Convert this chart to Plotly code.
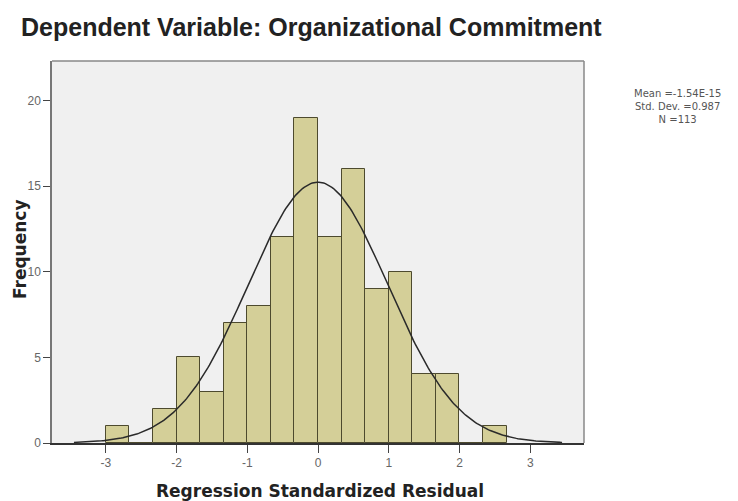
import numpy as np
import plotly.graph_objects as go

# Histogram data (bins of width 1/3 starting at -3)
bin_start = -3.0
bin_width = 1/3
counts = [1, 0, 2, 5, 3, 7, 8, 12, 19, 12, 16, 9, 10, 4, 4, 0, 1]

# Summary statistics shown on the chart
mean_label = "-1.54E-15"
mean_val = -1.54e-15
std_val = 0.987
n_val = 113

x_ticks = [-3, -2, -1, 0, 1, 2, 3]
y_ticks = [0, 5, 10, 15, 20]

centers = [bin_start + bin_width * (i + 0.5) for i in range(len(counts))]

# Normal curve fitted from the displayed statistics
xc = np.linspace(-3.45, 3.45, 300)
yc = n_val * bin_width / (std_val * np.sqrt(2 * np.pi)) * np.exp(-0.5 * ((xc - mean_val) / std_val) ** 2)

fig = go.Figure()
fig.add_trace(go.Bar(
    x=centers, y=counts, width=bin_width,
    marker=dict(color="#d4cf98", line=dict(color="#4d4a2e", width=1)),
    hoverinfo="x+y", showlegend=False,
))
fig.add_trace(go.Scatter(
    x=xc, y=yc, mode="lines",
    line=dict(color="#2a2a2a", width=1.5),
    showlegend=False, hoverinfo="skip",
))

title_font = "Liberation Sans, Arial, sans-serif"
axis_font = "DejaVu Sans, Verdana, sans-serif"

W, H = 730, 493
L, R, T, B = 44, 154, 53, 58
PW, PH = W - L - R, H - T - B

def px(x):
    return (x - L) / PW

def py(y):
    return (H - B - y) / PH

stats_text = f"Mean ={mean_label}<br>Std. Dev. ={std_val}<br>N ={n_val}"

annotations = [
    dict(text="<b>Frequency</b>", xref="paper", yref="paper",
         x=px(12), y=py(241), xanchor="center", yanchor="middle",
         textangle=-90, showarrow=False,
         font=dict(size=17, color="#222222", family=axis_font)),
    dict(text="<b>Regression Standardized Residual</b>", xref="paper", yref="paper",
         x=px(312), y=py(483), xanchor="center", yanchor="middle",
         showarrow=False,
         font=dict(size=17, color="#222222", family=axis_font)),
    dict(text=stats_text, xref="paper", yref="paper",
         x=px(669), y=py(98), xanchor="center", yanchor="middle",
         align="center", showarrow=False,
         font=dict(size=10, color="#555555", family=axis_font)),
]

fig.update_layout(
    width=W, height=H,
    margin=dict(l=L, r=R, t=T, b=B),
    paper_bgcolor="white",
    plot_bgcolor="#f0f0f0",
    bargap=0,
    font=dict(family=title_font, color="#555555"),
    title=dict(
        text="<b>Dependent Variable: Organizational Commitment</b>",
        x=13/W, xanchor="left", xref="container",
        y=1 - 19/H, yanchor="middle", yref="container",
        font=dict(size=25, color="#222222", family=title_font),
    ),
    xaxis=dict(
        range=[-3.76, 3.76],
        tickvals=x_ticks, ticktext=[str(v) for v in x_ticks],
        ticks="outside", ticklen=8, tickcolor="#444444",
        tickfont=dict(size=12, color="#666666"),
        showgrid=False, zeroline=False,
        showline=True, linecolor="#333333", linewidth=1.5, mirror=False,
    ),
    yaxis=dict(
        range=[0, 22.3],
        tickvals=y_ticks, ticktext=[str(v) for v in y_ticks],
        ticks="outside", ticklen=7, tickcolor="#444444",
        tickfont=dict(size=12, color="#666666"),
        showgrid=False, zeroline=False,
        showline=True, linecolor="#777777", linewidth=1.5, mirror=False,
    ),
    shapes=[
        dict(type="line", xref="paper", yref="paper", x0=0, x1=1, y0=1, y1=1,
             line=dict(color="#888888", width=1.5)),
        dict(type="line", xref="paper", yref="paper", x0=1, x1=1, y0=0, y1=1,
             line=dict(color="#888888", width=1.5)),
    ],
    annotations=annotations,
)

fig.write_html("out.html")
